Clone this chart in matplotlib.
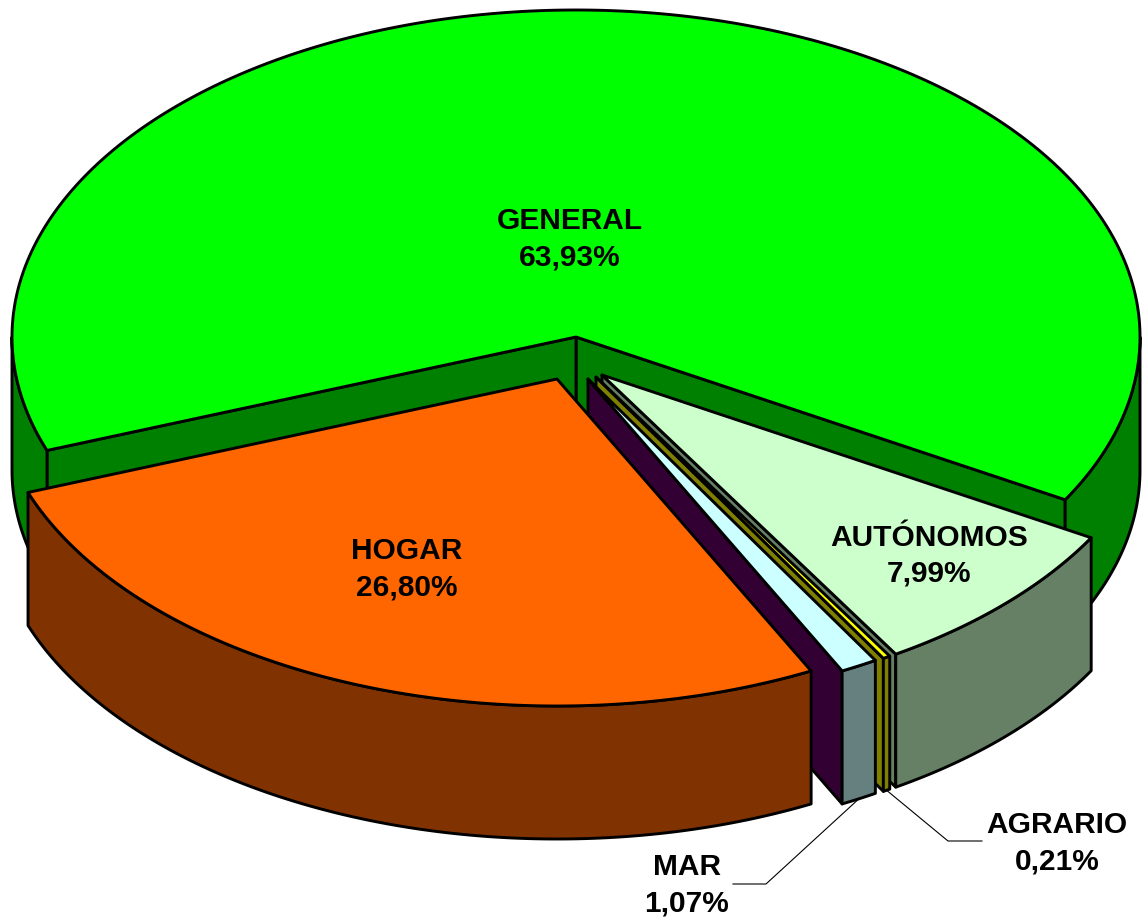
import numpy as np
import matplotlib
matplotlib.use("Agg")
import matplotlib.pyplot as plt
from matplotlib.patches import Polygon

# ---- data ----
categories = ["GENERAL", "AUTÓNOMOS", "AGRARIO", "MAR", "HOGAR"]
values = [63.93, 7.99, 0.21, 1.07, 26.80]

# ---- styles ----
top_colors = ["#00FF00", "#CCFFCC", "#FFFF00", "#CCFFFF", "#FF6600"]
wall_colors = ["#008000", "#668066", "#808000", "#668080", "#803300"]
radial_colors = ["#008000", "#668066", "#808000", "#330033", "#803300"]
explode_px = [(0, 0), (26, 38), (20, 40), (12, 42), (-19, 42)]

# geometry of the projected pie (pixel space)
CX, CY = 576, 337
RX, RY = 564, 327
DEPTH = 133
START = 200.3          # angle (deg, ccw) where the first slice begins; slices run clockwise

W, H = 1145, 918
fig = plt.figure(figsize=(W / 100, H / 100), dpi=100)
ax = fig.add_axes([0, 0, 1, 1])
ax.set_xlim(0, W)
ax.set_ylim(H, 0)
ax.axis("off")

LW = 2.1


def pt(theta, off, z=0.0, r=1.0):
    t = np.radians(theta)
    return (CX + off[0] + r * RX * np.cos(t), CY + off[1] - r * RY * np.sin(t) + z)


def arc(a, b, off, z=0.0, n=None):
    if n is None:
        n = max(int(abs(b - a) * 2) + 2, 3)
    th = np.linspace(a, b, n)
    t = np.radians(th)
    xs = CX + off[0] + RX * np.cos(t)
    ys = CY + off[1] - RY * np.sin(t) + z
    return np.column_stack([xs, ys])


def front_ranges(a, b):
    out = []
    for k in (-2, -1, 0, 1):
        lo, hi = -180 + 360 * k, 0 + 360 * k
        s, e = max(a, lo), min(b, hi)
        if e > s:
            out.append((s, e))
    return out


# compute slice angles (ccw intervals [a, b])
spans = []
cur = START
for v in values:
    end = cur - v * 3.6
    spans.append((end, cur))
    cur = end

slices = {}
for i, (a, b) in enumerate(spans):
    off = explode_px[i]
    apex = (CX + off[0], CY + off[1])
    apex_b = (apex[0], apex[1] + DEPTH)
    # radial walls (draw the ones that face the viewer)
    for edge, nrm in ((a, a - 90), (b, b + 90)):
        if np.sin(np.radians(nrm)) < 0:
            p_t = pt(edge, off)
            p_b = pt(edge, off, DEPTH)
            ax.add_patch(Polygon([apex, p_t, p_b, apex_b], closed=True,
                                 facecolor=radial_colors[i], edgecolor="black",
                                 linewidth=LW, joinstyle="round"))
    # outer wall
    for s, e in front_ranges(a, b):
        topa = arc(s, e, off)
        bota = arc(s, e, off, DEPTH)[::-1]
        ax.add_patch(Polygon(np.vstack([topa, bota]), closed=True,
                             facecolor=wall_colors[i], edgecolor="black",
                             linewidth=LW, joinstyle="round"))
    # top face
    topa = arc(b, a, off)
    ax.add_patch(Polygon(np.vstack([[apex], topa]), closed=True,
                         facecolor=top_colors[i], edgecolor="black",
                         linewidth=LW, joinstyle="round"))
    slices[categories[i]] = (a, b, off)

# ---- labels ----
FONT = dict(family=["Liberation Sans", "DejaVu Sans"], fontweight="bold",
            fontsize=21.5, ha="center", va="baseline", linespacing=1.38,
            color="black")


def pct(v):
    return f"{v:.2f}".replace(".", ",") + "%"


# (x centre, baseline of the percentage line)
label_pos = {
    "GENERAL": (570, 265),
    "HOGAR": (407, 595),
    "AUTÓNOMOS": (929, 582),
    "AGRARIO": (1057, 869),
    "MAR": (687, 911),
}
for cat, v in zip(categories, values):
    x, y = label_pos[cat]
    ax.text(x, y, f"{cat}\n{pct(v)}", **FONT)

# leader lines for the small slices
leaders = {
    "AGRARIO": [(948, 841), (982, 841)],
    "MAR": [(766, 884), (733, 884)],
}
for cat, pts in leaders.items():
    a, b, off = slices[cat]
    start = pt((a + b) / 2, off, DEPTH)
    xs = [start[0]] + [p[0] for p in pts]
    ys = [start[1]] + [p[1] for p in pts]
    ax.plot(xs, ys, color="black", linewidth=0.8)

fig.savefig("out.png", dpi=100, facecolor="white")
